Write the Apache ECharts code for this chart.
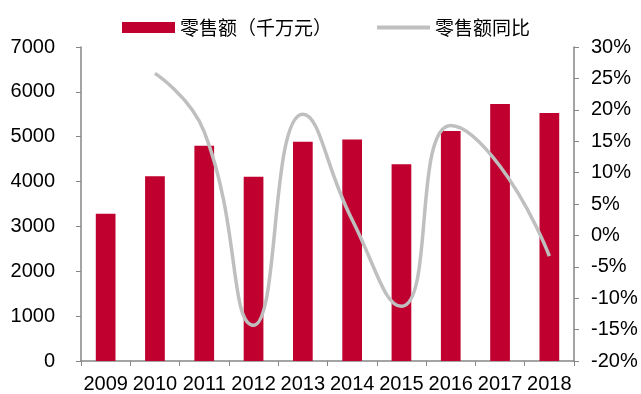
<!DOCTYPE html>
<html>
<head>
<meta charset="utf-8">
<script src="https://cdn.jsdelivr.net/npm/echarts@6/dist/echarts.min.js"></script>
<style>
  html, body { margin: 0; padding: 0; background: #fff; }
  #chart { width: 641px; height: 394px; }
</style>
</head>
<body>
<div id="chart"></div>
<script>
// Annual retail sales (ten-million yuan) and year-on-year growth (%)
const years = ['2009', '2010', '2011', '2012', '2013', '2014', '2015', '2016', '2017', '2018'];
const salesValues = [3280, 4120, 4800, 4110, 4890, 4940, 4385, 5130, 5730, 5530];
const growthValues = [null, 25.8, 16.5, -14.3, 19.3, 2.5, -11.3, 17.5, 11.0, -3.3];
const leftTicks = { min: 0, max: 7000, interval: 1000 };
const rightTicks = { min: -20, max: 30, interval: 5 };

const axisGray = '#868686';
const lineGray = '#BFBFBF';
const labelFont = { fontFamily: 'Liberation Sans, Arial, sans-serif', fontSize: 20, color: '#000' };

const chart = echarts.init(document.getElementById('chart'), null, { renderer: 'canvas' });
chart.setOption({
  animation: false,
  legend: {
    top: 13,
    left: 117,
    itemGap: 45,
    itemWidth: 53,
    itemHeight: 11,
    symbolKeepAspect: true,
    textStyle: { fontFamily: 'Noto Sans CJK SC', fontSize: 19, color: '#000' },
    data: [
      { name: '零售额（千万元）', icon: 'rect' },
      {
        name: '零售额同比',
        icon: 'path://M0,0 L53,0 L53,4 L0,4 Z',
        itemStyle: { color: lineGray, borderWidth: 0 },
        lineStyle: { width: 0 }
      }
    ]
  },
  grid: { left: 81, right: 67, top: 47, bottom: 33 },
  xAxis: {
    type: 'category',
    data: years,
    axisLine: { lineStyle: { color: axisGray, width: 1.5 } },
    axisTick: { show: true, length: 5, lineStyle: { color: axisGray } },
    axisLabel: Object.assign({ margin: 13, interval: 0 }, labelFont)
  },
  yAxis: [
    {
      type: 'value',
      min: leftTicks.min, max: leftTicks.max, interval: leftTicks.interval,
      splitLine: { show: false },
      axisLine: { show: true, lineStyle: { color: axisGray, width: 1.5 } },
      axisTick: { show: true, length: 5, lineStyle: { color: axisGray } },
      axisLabel: Object.assign({ margin: 26, formatter: v => String(v) }, labelFont)
    },
    {
      type: 'value',
      min: rightTicks.min, max: rightTicks.max, interval: rightTicks.interval,
      splitLine: { show: false },
      axisLine: { show: true, lineStyle: { color: axisGray, width: 1.5 } },
      axisTick: { show: true, length: 5, lineStyle: { color: axisGray } },
      axisLabel: Object.assign({ margin: 17, formatter: v => v + '%' }, labelFont)
    }
  ],
  series: [
    {
      name: '零售额（千万元）',
      type: 'bar',
      data: salesValues,
      barWidth: '40%',
      itemStyle: { color: '#C0002F' }
    },
    {
      name: '零售额同比',
      type: 'line',
      yAxisIndex: 1,
      data: growthValues,
      smooth: 0.5,
      showSymbol: false,
      symbol: 'none',
      lineStyle: { color: lineGray, width: 3.5 },
      itemStyle: { color: lineGray }
    }
  ]
});
</script>
</body>
</html>
